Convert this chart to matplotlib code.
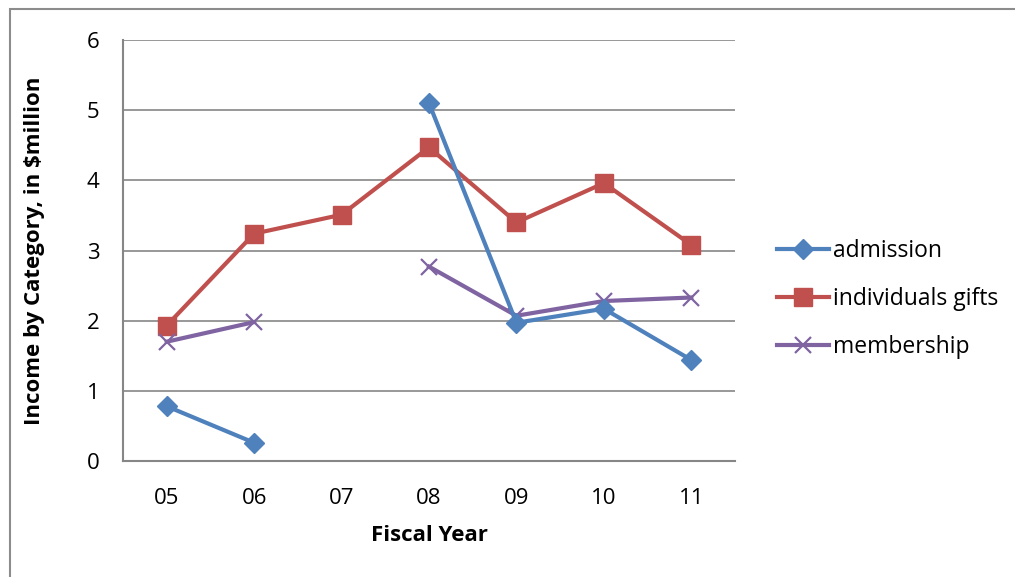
import matplotlib
matplotlib.use("Agg")
import matplotlib.pyplot as plt
import matplotlib.patches as mpatches
import numpy as np

# ── data ($million, NaN = no figure for that year) ─────────────────────────
years = ["05", "06", "07", "08", "09", "10", "11"]
admission = [0.78, 0.26, np.nan, 5.10, 1.97, 2.17, 1.44]
individual_gifts = [1.93, 3.24, 3.51, 4.47, 3.40, 3.96, 3.08]
membership = [1.70, 1.98, np.nan, 2.77, 2.07, 2.28, 2.33]

BLUE = "#4F81BD"
RED = "#C0504D"
PURPLE = "#8064A2"
GRID = "#868686"
FONT = ["Open Sans", "DejaVu Sans"]
FS = 16

plt.rcParams["font.family"] = FONT

fig = plt.figure(figsize=(10.15, 5.77), dpi=100)
ax = fig.add_axes([123 / 1015, 1 - 461 / 577, 612 / 1015, 421 / 577])

x = np.arange(len(years))
ax.plot(x, admission, color=BLUE, lw=3, marker="D", ms=10,
        mfc=BLUE, mec=BLUE, label="admission", zorder=3)
ax.plot(x, individual_gifts, color=RED, lw=3, marker="s", ms=12.5,
        mfc=RED, mec=RED, label="individuals gifts", zorder=2)
ax.plot(x, membership, color=PURPLE, lw=3, marker="x", ms=12,
        mew=1.6, mec=PURPLE, label="membership", zorder=2)

ax.set_xlim(-0.5, len(years) - 0.5)
ax.set_ylim(0, 6)
ax.set_xticks(x)
ax.set_xticklabels(years)
ax.set_yticks(range(0, 7))
ax.tick_params(length=0, labelsize=FS, colors="black")
ax.tick_params(axis="x", pad=19.5)
ax.tick_params(axis="y", pad=17)
ax.yaxis.grid(True, color=GRID, lw=1.2)
ax.set_axisbelow(True)
for side in ("top", "right"):
    ax.spines[side].set_visible(False)
for side in ("left", "bottom"):
    ax.spines[side].set_color(GRID)
    ax.spines[side].set_linewidth(1.5)

ax.set_xlabel("Fiscal Year", fontsize=FS, fontweight="bold", va="center")
ax.xaxis.set_label_coords(0.5, -0.178)
ax.set_ylabel("Income by Category, in $million", fontsize=FS,
              fontweight="bold", va="center")
ax.yaxis.set_label_coords(-0.144, 0.5)

leg = ax.legend(loc="center left", bbox_to_anchor=(1.035, 0.385), frameon=False,
                fontsize=16.5, handlelength=2.25, handletextpad=0.2,
                labelspacing=1.05)

# chart-area frame, running off the right and bottom edges
fig.add_artist(mpatches.Rectangle((10 / 1015, -0.1), 1.2, 1 - 9 / 577 + 0.1,
                                  transform=fig.transFigure, fill=False,
                                  edgecolor="#8c8c8c", lw=1.5))

fig.savefig("out.png", dpi=100)
